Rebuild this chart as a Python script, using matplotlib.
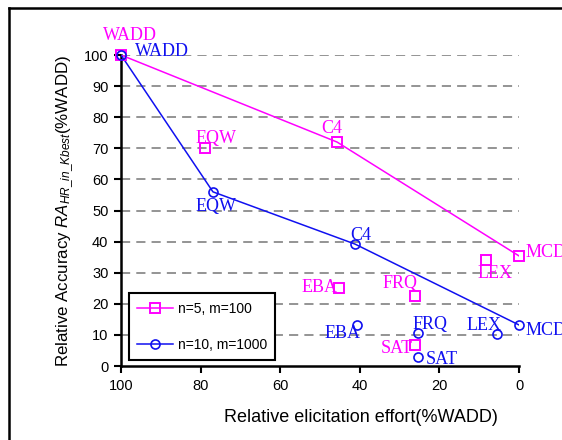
import matplotlib
matplotlib.use("Agg")
import matplotlib.pyplot as plt
from matplotlib.lines import Line2D

plt.rcParams['font.family'] = ['Liberation Sans', 'DejaVu Sans']
plt.rcParams['mathtext.fontset'] = 'custom'
plt.rcParams['mathtext.rm'] = 'Liberation Sans'
plt.rcParams['mathtext.it'] = 'Liberation Sans:italic'

# Data: (relative elicitation effort %WADD, relative accuracy %WADD)
methods = ['WADD', 'EQW', 'C4', 'EBA', 'FRQ', 'SAT', 'LEX', 'MCD']
n5_effort = [100, 78.9, 45.7, 45.2, 26.1, 26.1, 8.3, 0]
n5_acc = [100, 70, 72, 25, 22.5, 6.8, 34, 35.4]
n10_effort = [100, 76.9, 41.2, 40.7, 25.4, 25.4, 5.5, 0]
n10_acc = [100, 56, 39.2, 13.2, 10.6, 2.9, 10.3, 13.2]
n5_line = ['WADD', 'C4', 'MCD']
n10_line = ['WADD', 'EQW', 'C4', 'MCD']
series_names = ['n=5, m=100', 'n=10, m=1000']
xticks = [100, 80, 60, 40, 20, 0]
yticks = [0, 10, 20, 30, 40, 50, 60, 70, 80, 90, 100]

# label offsets in pixels (dx, dy, ha)
n5_off = {'WADD': (9, 20, 'center'), 'EQW': (11, 10, 'center'), 'C4': (-5, 14, 'center'),
          'EBA': (-20, 1, 'center'), 'FRQ': (-15, 13, 'center'), 'SAT': (-18, -4, 'center'),
          'LEX': (9, -13, 'center'), 'MCD': (7, 3, 'left')}
n10_off = {'WADD': (14, 4, 'left'), 'EQW': (3, -15, 'center'), 'C4': (6, 9, 'center'),
           'EBA': (-14, -9, 'center'), 'FRQ': (12, 9, 'center'), 'SAT': (8, -3, 'left'),
           'LEX': (-13, 8, 'center'), 'MCD': (7, -6, 'left')}

PINK = '#FF00FF'
BLUE = '#1010F0'

fig = plt.figure(figsize=(5.62, 4.40), dpi=100)
ax = fig.add_axes([121/562, 1-366/440, (519-121)/562, (366-55)/440])

# lines
ax.plot([n5_effort[methods.index(m)] for m in n5_line], [n5_acc[methods.index(m)] for m in n5_line],
        color=PINK, lw=1.1, zorder=3)
ax.plot([n10_effort[methods.index(m)] for m in n10_line], [n10_acc[methods.index(m)] for m in n10_line],
        color=BLUE, lw=1.1, zorder=3)
# markers
ax.plot(n5_effort, n5_acc, ls='none', marker='s', ms=7, mfc='none', mec=PINK, mew=1.4, clip_on=False, zorder=4)
ax.plot(n10_effort, n10_acc, ls='none', marker='o', ms=6.5, mfc='none', mec=BLUE, mew=1.2, clip_on=False, zorder=4)

for m, x, y in zip(methods, n5_effort, n5_acc):
    dx, dy, ha = n5_off[m]
    ax.annotate(m, (x, y), xytext=(dx, dy), textcoords='offset pixels', ha=ha, va='center',
                color=PINK, fontsize=13, family='Liberation Serif', annotation_clip=False)
for m, x, y in zip(methods, n10_effort, n10_acc):
    dx, dy, ha = n10_off[m]
    ax.annotate(m, (x, y), xytext=(dx, dy), textcoords='offset pixels', ha=ha, va='center',
                color=BLUE, fontsize=13, family='Liberation Serif', annotation_clip=False)

ax.set_xlim(100, 0)
ax.set_ylim(0, 100)
ax.set_xticks(xticks)
ax.set_yticks(yticks)
ax.tick_params(labelsize=10.5, width=1.5, length=5, direction='out', pad=4, colors='black')
for s in ['top', 'right']:
    ax.spines[s].set_visible(False)
for s in ['left', 'bottom']:
    ax.spines[s].set_linewidth(1.8)
ax.set_axisbelow(True)
ax.yaxis.grid(True, color='#777777', lw=1.1, linestyle=(0, (6, 4)))
for gl, t in zip(ax.yaxis.get_gridlines(), yticks):
    if t == 0:
        gl.set_visible(False)

fig.text(361/562, 1-417/440, 'Relative elicitation effort(%WADD)', fontsize=13, ha='center', va='center')
ax.set_ylabel(r'Relative Accuracy $\mathit{RA}_{\mathit{HR\_in\_Kbest}}$(%WADD)', fontsize=12.2, labelpad=6)

handles = [Line2D([], [], color=PINK, lw=1.1, marker='s', ms=7, mfc='none', mec=PINK, mew=1.4),
           Line2D([], [], color=BLUE, lw=1.1, marker='o', ms=6.5, mfc='none', mec=BLUE, mew=1.2)]
leg = ax.legend(handles, series_names, loc='lower left', bbox_to_anchor=(0.02, 0.019),
                borderaxespad=0, fontsize=10, frameon=True, fancybox=False, framealpha=1,
                edgecolor='black', handlelength=2.6, labelspacing=1.6, borderpad=0.6, handletextpad=0.3)
leg.get_frame().set_linewidth(1.5)

# figure border (partially cropped)
fig.add_artist(Line2D([9/562, 9/562], [0, 1-8/440], transform=fig.transFigure, color='black', lw=1.8))
fig.add_artist(Line2D([9/562, 1], [1-8/440, 1-8/440], transform=fig.transFigure, color='black', lw=1.8))

fig.savefig('out.png', dpi=100)
